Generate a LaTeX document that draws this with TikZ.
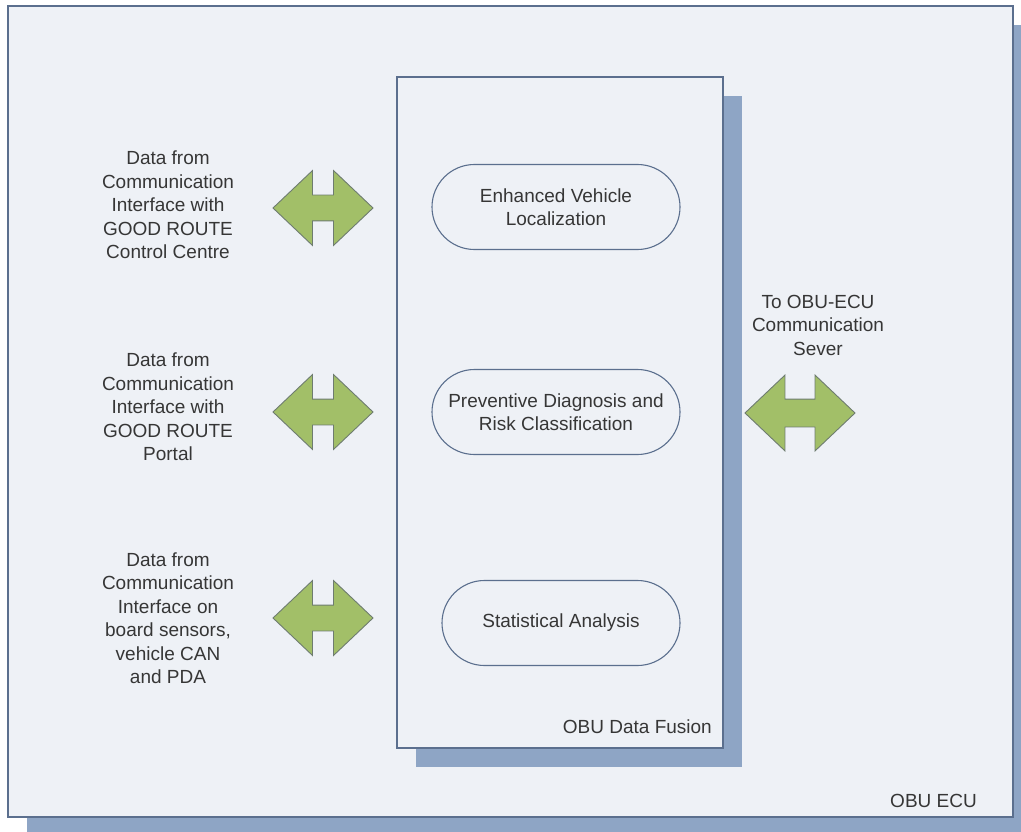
\documentclass[tikz,border=0pt]{standalone}
\usepackage{fontspec}
\setmainfont{Liberation Sans}
\usetikzlibrary{shapes.misc,shapes.arrows,shadows}
\definecolor{paneFill}{HTML}{EEF1F6}
\definecolor{paneLine}{HTML}{5B6F8E}
\definecolor{paneShadow}{HTML}{8EA5C5}
\definecolor{arrowFill}{HTML}{A2BF68}
\definecolor{arrowLine}{HTML}{6E7C70}
\definecolor{labelGray}{HTML}{363636}

\begin{document}
\begin{tikzpicture}[x=1pt,y=-1pt,
  every node/.style={inner sep=0pt,text=labelGray,font=\fontsize{19}{23.5}\selectfont},
  pane/.style={draw=paneLine,fill=paneFill,line width=1.2pt,
    general shadow={fill=paneShadow,shadow xshift=19pt,shadow yshift=-19pt}},
  task/.style={rounded rectangle,draw=paneLine,fill=paneFill,line width=1.1pt,
    minimum height=85pt,align=center},
  link/.style={double arrow,draw=arrowLine,fill=arrowFill,line width=0.9pt,
    inner xsep=0pt,inner ysep=12.5pt,
    double arrow tip angle=87,double arrow head extend=24.5pt,
    minimum height=100pt},
  source/.style={align=center}]
\useasboundingbox (0,0) rectangle (1021,832);
\node[pane,minimum width=1005pt,minimum height=811pt] (ecu) at (510.5,411.5) {};
\node[pane,minimum width=326pt,minimum height=671pt] (fusion) at (560,412.5) {};
\node[anchor=base east] (ecuname) at (977,807) {OBU ECU};
\node[anchor=base east] (fusionname) at (712,733) {OBU Data Fusion};
\node[task,minimum width=248pt] (local) at (556,207) {Enhanced Vehicle\\Localization};
\node[task,minimum width=248pt] (diag) at (556,412) {Preventive Diagnosis and\\Risk Classification};
\node[task,minimum width=238pt] (stat) at (561,623) {Statistical Analysis};
\node[link] (linkcc) at (323,208) {};
\node[link] (linkportal) at (323,412) {};
\node[link] (linkcan) at (323,618) {};
\node[link,minimum height=110pt,inner ysep=13.5pt,double arrow head extend=24pt] (linkserver) at (800,413) {};
\node[source] (srccc) at (168,205) {Data from\\Communication\\Interface with\\GOOD ROUTE\\Control Centre};
\node[source] (srcportal) at (168,407) {Data from\\Communication\\Interface with\\GOOD ROUTE\\Portal};
\node[source] (srccan) at (168,618) {Data from\\Communication\\Interface on\\board sensors,\\vehicle CAN\\and PDA};
\node[source] (dstserver) at (818,325) {To OBU-ECU\\Communication\\Sever};
\end{tikzpicture}
\end{document}
